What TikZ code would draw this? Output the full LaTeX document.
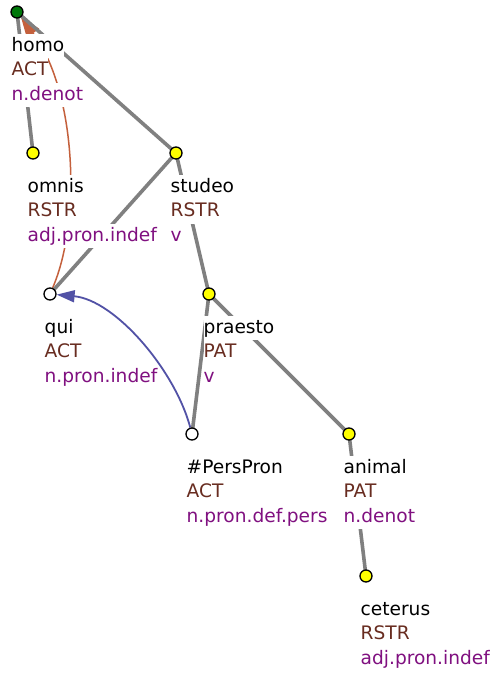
\documentclass[tikz,border=0pt]{standalone}
\usepackage{fontspec}
\setmainfont{DejaVu Sans}
\usetikzlibrary{arrows.meta}
\definecolor{edgegray}{RGB}{128,128,128}
\definecolor{functor}{RGB}{104,44,32}
\definecolor{sempos}{RGB}{128,16,128}
\definecolor{corefgram}{RGB}{196,96,60}
\definecolor{coreftext}{RGB}{82,82,166}
\definecolor{rootgreen}{RGB}{0,120,10}
\definecolor{nodeyellow}{RGB}{255,255,0}

\tikzset{
  tnode/.style={circle, draw=black, line width=1.3pt, minimum size=12pt, inner sep=0pt, fill=nodeyellow},
  hidden/.style={tnode, fill=white},
  rootnode/.style={tnode, fill=rootgreen},
  edge/.style={draw=edgegray, line width=3.6pt},
  lbl/.style={anchor=base west, fill=white, inner xsep=0pt, inner ysep=2.25pt,
    text height=15pt, text depth=5pt, font=\fontsize{18.6}{22}\selectfont},
  gramcoref/.style={draw=corefgram, line width=1.5pt, -{Triangle[length=20pt,width=15pt]}},
  textcoref/.style={draw=coreftext, line width=1.8pt, -{Triangle[length=18pt,width=12pt]}}
}

% three-line label under a tree node: lemma, functor, semantic part of speech
\newcommand\treelabel[6]{%
  \node[lbl, text=black]   (#1-lemma) at (#2-5.5, #3+39)   {#4};
  \node[lbl, text=functor] (#1-func)  at (#2-5.5, #3+63.5) {#5};
  \node[lbl, text=sempos]  (#1-pos)   at (#2-5.5, #3+88)   {#6};
}

\begin{document}
\begin{tikzpicture}[x=1pt, y=-1pt]
\useasboundingbox[fill=white] (0,0) rectangle (490,673);

% node positions
\coordinate (p-homo) at (17,12);
\coordinate (p-omnis) at (33,153);
\coordinate (p-studeo) at (176,153);
\coordinate (p-qui) at (50,294);
\coordinate (p-praesto) at (209,294);
\coordinate (p-pers) at (192,434);
\coordinate (p-animal) at (349,434);
\coordinate (p-ceterus) at (366,576);

% invisible anchors for the coreference arrows
\node[tnode, draw=none, fill=none] (homo-a) at (p-homo) {};
\node[tnode, draw=none, fill=none] (qui-a) at (p-qui) {};
\node[tnode, draw=none, fill=none] (pers-a) at (p-pers) {};

% coreference arrows
\draw[gramcoref] (qui-a) .. controls (82,220) and (76,90) .. (homo-a);
\draw[textcoref] (pers-a) .. controls (175,370) and (115,300) .. (qui-a);

% dependency edges
\draw[edge] (p-homo) -- (p-omnis);
\draw[edge] (p-homo) -- (p-studeo);
\draw[edge] (p-studeo) -- (p-qui);
\draw[edge] (p-studeo) -- (p-praesto);
\draw[edge] (p-praesto) -- (p-pers);
\draw[edge] (p-praesto) -- (p-animal);
\draw[edge] (p-animal) -- (p-ceterus);

% node circles
\node[rootnode] (homo) at (p-homo) {};
\node[tnode] (omnis) at (p-omnis) {};
\node[tnode] (studeo) at (p-studeo) {};
\node[hidden] (qui) at (p-qui) {};
\node[tnode] (praesto) at (p-praesto) {};
\node[hidden] (pers) at (p-pers) {};
\node[tnode] (animal) at (p-animal) {};
\node[tnode] (ceterus) at (p-ceterus) {};

% labels
\treelabel{homo}{17}{12}{homo}{ACT}{n.denot}
\treelabel{omnis}{33}{153}{omnis}{RSTR}{adj.pron.indef}
\treelabel{studeo}{176}{153}{studeo}{RSTR}{v}
\treelabel{qui}{50}{294}{qui}{ACT}{n.pron.indef}
\treelabel{praesto}{209}{294}{praesto}{PAT}{v}
\treelabel{pers}{192}{434}{\#PersPron}{ACT}{n.pron.def.pers}
\treelabel{animal}{349}{434}{animal}{PAT}{n.denot}
\treelabel{ceterus}{366}{576}{ceterus}{RSTR}{adj.pron.indef}
\end{tikzpicture}
\end{document}
